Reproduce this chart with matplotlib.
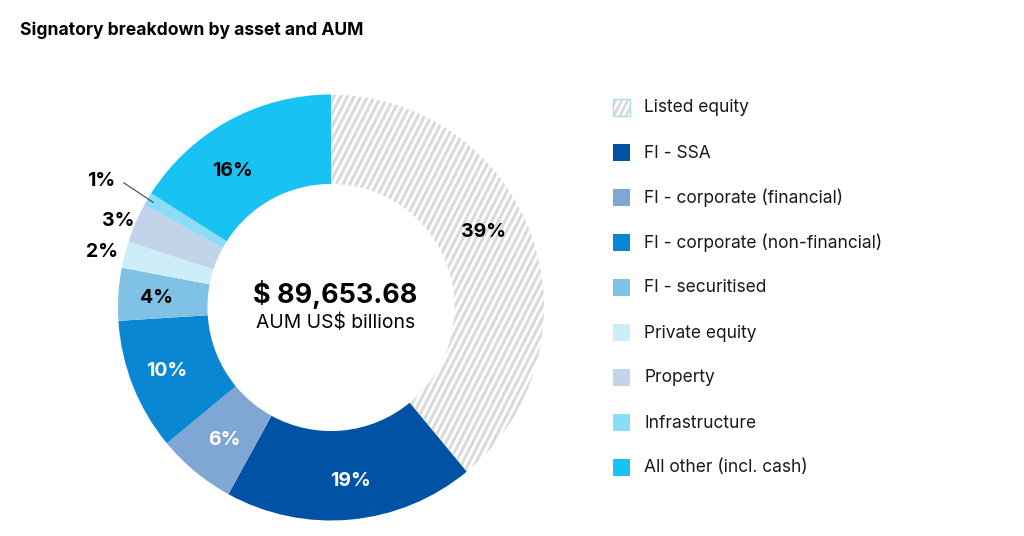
import matplotlib
matplotlib.use("Agg")
import matplotlib.pyplot as plt
from matplotlib.patches import Rectangle
from matplotlib.collections import LineCollection
import numpy as np

plt.rcParams['font.family'] = ['Inter', 'DejaVu Sans']

title = "Signatory breakdown by asset and AUM"
categories = ["Listed equity", "FI - SSA", "FI - corporate (financial)",
              "FI - corporate (non-financial)", "FI - securitised", "Private equity",
              "Property", "Infrastructure", "All other (incl. cash)"]
values = [39, 19, 6, 10, 4, 2, 3, 1, 16]
colors = ["#ffffff", "#0052a5", "#80a7d4", "#0a87d2", "#80c1e6", "#cdedf9",
          "#c2d4e9", "#8bdcf6", "#18c3f3"]
label_colors = ["black", "white", "white", "white", "black", "black", "black", "black", "black"]
outside = [False, False, False, False, False, True, True, True, False]
total_text = "$ 89,653.68"
total_sub = "AUM US$ billions"

HATCH_COLOR = '#dadada'

W, H = 1024, 536
fig = plt.figure(figsize=(W / 100, H / 100), dpi=100)

cx, cy, R = 331, 307.5, 213
ax = fig.add_axes([(cx - R) / W, (H - cy - R) / H, 2 * R / W, 2 * R / H])
wedges, _ = ax.pie(values, colors=colors, startangle=90, counterclock=False,
                   radius=1, wedgeprops=dict(width=0.42, linewidth=0))
ax.set_xlim(-1, 1)
ax.set_ylim(-1, 1)
ax.axis('off')


def stripes(axis, clip_patch, cxs, cys, half, pitch, angle_deg, lw, color):
    """Diagonal stripes (hatch) clipped to a patch; pitch is horizontal spacing."""
    t = np.tan(np.deg2rad(angle_deg))
    dx = half / t
    span = half + abs(dx)
    segs = []
    x0 = cxs - span - pitch
    while x0 < cxs + span + pitch:
        segs.append([(x0 - dx, cys - half), (x0 + dx, cys + half)])
        x0 += pitch
    lc = LineCollection(segs, colors=color, linewidths=lw, zorder=3)
    axis.add_collection(lc)
    lc.set_clip_path(clip_patch)


stripes(ax, wedges[0], 0, 0, 1.2, 6.7 / R, 63, 2.2, HATCH_COLOR)

# percentage labels (small angular nudges / radii for readability)
ang_shift = [6.5, 1.0, 0.7, -0.5, 0.5, 0.8, 1.3, 0, 7.0]
lab_r = [0.80, 0.82, 0.80, 0.825, 0.82, 1.106, 1.08, 1.13, 0.79]
cum = np.cumsum([0] + values)
tot = float(sum(values))
PCT_SIZE = 14
for i, v in enumerate(values):
    mid = (cum[i] + cum[i + 1]) / 2 / tot * 360
    ang = np.deg2rad(90 - mid + ang_shift[i])
    txt = f"{v}%"
    r = lab_r[i]
    if outside[i] and v == 1:
        r0 = 0.97
        ax.plot([r0 * np.cos(ang), r * np.cos(ang)], [r0 * np.sin(ang), r * np.sin(ang) + 0.01],
                color='#444444', lw=0.8, clip_on=False, zorder=4)
        ax.text(r * np.cos(ang) - 0.04, r * np.sin(ang) + 0.02, txt, ha='right', va='center',
                fontsize=PCT_SIZE, fontweight='bold', color='black', zorder=5)
    else:
        ax.text(r * np.cos(ang), r * np.sin(ang), txt, ha='center', va='center',
                fontsize=PCT_SIZE, fontweight='bold', color=label_colors[i], zorder=5)

ax.text(0.02, 0.06, total_text, ha='center', va='center', fontsize=19.4, fontweight='bold')
ax.text(0.02, -0.07, total_sub, ha='center', va='center', fontsize=13.9)

# overlay for title and legend
ov = fig.add_axes([0, 0, 1, 1])
ov.set_xlim(0, W)
ov.set_ylim(H, 0)
ov.axis('off')
ov.text(20, 30, title, ha='left', va='center', fontsize=12.6, fontweight='bold')

y0, dy = 107, 45
for i, cat in enumerate(categories):
    y = y0 + i * dy
    if i == 0:
        sq = Rectangle((613, y - 8.5), 17, 17, facecolor='white', linewidth=0)
        ov.add_patch(sq)
        stripes(ov, sq, 621.5, y, 10, 6.0, -63, 2.0, HATCH_COLOR)
        ov.add_patch(Rectangle((613, y - 8.5), 17, 17, facecolor='none',
                               edgecolor='#a9dcf2', linewidth=1, zorder=4))
    else:
        ov.add_patch(Rectangle((613, y - 8.5), 17, 17, facecolor=colors[i], linewidth=0))
    ov.text(644, y + 1, cat, ha='left', va='center', fontsize=12.5, color='#1a1a1a')

fig.savefig("out.png", dpi=100, facecolor='white')
